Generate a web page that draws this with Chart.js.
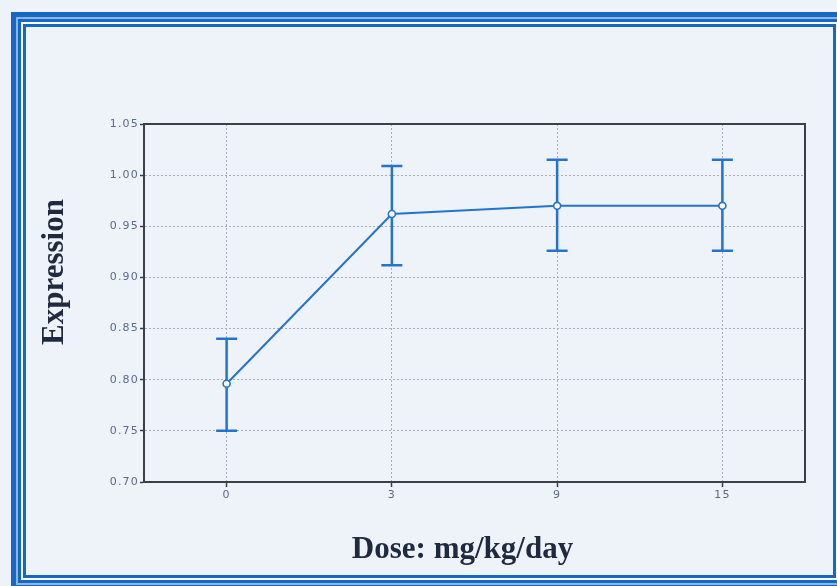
<!DOCTYPE html>
<html><head><meta charset="utf-8">
<script src="https://cdn.jsdelivr.net/npm/chart.js@4"></script>
<style>
html,body{margin:0;padding:0;width:837px;height:586px;overflow:hidden;background:#eef2f9;}
.f{position:absolute;box-sizing:border-box;}
#c{position:absolute;left:0;top:0;}
</style></head><body>
<div class="f" style="left:11px;top:12px;width:837px;height:578px;border:5px solid #1767c4"></div>
<div class="f" style="left:16px;top:17px;width:827px;height:568px;border:2px solid #8db5e6"></div>
<div class="f" style="left:18px;top:19px;width:823px;height:564px;border:3px solid #1767c4"></div>
<div class="f" style="left:21px;top:22px;width:817px;height:558px;border:2px solid #f8fafe"></div>
<div class="f" style="left:23px;top:24px;width:813px;height:554px;border:3px solid #1767c4"></div>
<canvas id="c" width="837" height="586"></canvas>
<script>
const categories = ['0', '3', '9', '15'];
const means = [0.796, 0.962, 0.970, 0.970];
const upper = [0.840, 1.009, 1.015, 1.015];
const lower = [0.750, 0.912, 0.926, 0.926];
const yTickValues = [0.70, 0.75, 0.80, 0.85, 0.90, 0.95, 1.00, 1.05];
const xTitle = 'Dose: mg/kg/day';
const yTitle = 'Expression';

const lineColor = '#2274cf';

const deco = {
  id: 'deco',
  beforeDraw(chart) { chart.ctx.letterSpacing = '1.2px'; },
  beforeDatasetsDraw(chart) {
    const {ctx, chartArea: a, scales: {x, y}} = chart;
    ctx.save();
    ctx.letterSpacing = '0px';
    ctx.strokeStyle = '#3c3f48';
    ctx.lineWidth = 2;
    ctx.strokeRect(a.left, a.top, a.right - a.left, a.bottom - a.top);
    ctx.strokeStyle = lineColor;
    ctx.lineWidth = 2.5;
    categories.forEach((c, i) => {
      const px = x.getPixelForValue(i);
      const yt = y.getPixelForValue(upper[i]);
      const yb = y.getPixelForValue(lower[i]);
      ctx.beginPath();
      ctx.moveTo(px, yt); ctx.lineTo(px, yb);
      ctx.moveTo(px - 10.5, yt); ctx.lineTo(px + 10.5, yt);
      ctx.moveTo(px - 10.5, yb); ctx.lineTo(px + 10.5, yb);
      ctx.stroke();
    });
    ctx.restore();
  },
  afterDraw(chart) {
    const {ctx, chartArea: a} = chart;
    ctx.save();
    ctx.letterSpacing = '0px';
    ctx.fillStyle = '#1f2a3f';
    ctx.font = 'bold 31px "Liberation Serif"';
    ctx.textAlign = 'center';
    ctx.textBaseline = 'alphabetic';
    ctx.fillText(xTitle, (a.left + a.right) / 2 - 12, a.bottom + 76);
    ctx.translate(a.left - 81, (a.top + a.bottom) / 2 - 31);
    ctx.rotate(-Math.PI / 2);
    ctx.fillText(yTitle, 0, 0);
    ctx.restore();
  }
};

new Chart(document.getElementById('c'), {
  type: 'line',
  data: {
    labels: categories,
    datasets: [{
      data: means,
      borderColor: lineColor,
      borderWidth: 2,
      pointRadius: 3.5,
      pointBorderWidth: 1.6,
      pointBackgroundColor: '#ffffff',
      pointBorderColor: lineColor,
      tension: 0,
      fill: false
    }]
  },
  options: {
    responsive: false,
    animation: false,
    devicePixelRatio: 1,
    layout: {padding: {top: 124, right: 32, left: 0, bottom: 0}},
    plugins: {legend: {display: false}, tooltip: {enabled: false}},
    scales: {
      x: {
        type: 'category',
        offset: true,
        afterFit: s => { s.height = 104; },
        grid: {color: '#a9adb8', lineWidth: 1, tickLength: 5, tickColor: '#3c3f48', tickWidth: 1.5, drawTicks: true, offset: false},
        border: {display: true, color: '#3c3f48', width: 2, dash: [2, 2]},
        ticks: {color: '#5b6b8c', font: {family: 'DejaVu Sans', size: 11}, padding: 2, maxRotation: 0}
      },
      y: {
        min: 0.70,
        max: 1.05,
        afterFit: s => { s.width = 144; },
        afterBuildTicks: s => { s.ticks = yTickValues.map(v => ({value: v})); },
        grid: {color: '#a9adb8', lineWidth: 1, tickLength: 4, tickColor: '#3c3f48', tickWidth: 1.5, drawTicks: true},
        border: {display: true, color: '#3c3f48', width: 2, dash: [2, 2]},
        ticks: {color: '#5b6b8c', font: {family: 'DejaVu Sans', size: 11}, padding: 1,
          callback: v => Number(v).toFixed(2)}
      }
    }
  },
  plugins: [deco]
});
</script>
</body></html>
